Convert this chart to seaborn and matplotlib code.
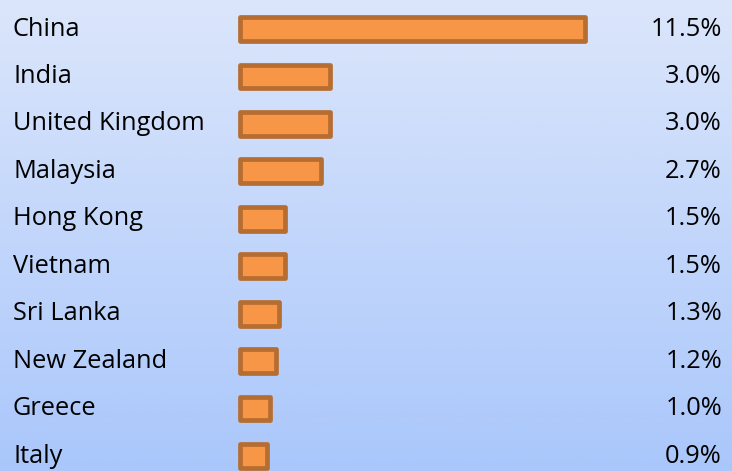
import numpy as np
import pandas as pd
import matplotlib
matplotlib.use("Agg")
import matplotlib.pyplot as plt
import matplotlib.transforms as mtransforms
import seaborn as sns

countries = ["China", "India", "United Kingdom", "Malaysia", "Hong Kong",
             "Vietnam", "Sri Lanka", "New Zealand", "Greece", "Italy"]
values = [11.5, 3.0, 3.0, 2.7, 1.5, 1.5, 1.3, 1.2, 1.0, 0.9]
value_labels = ["11.5%", "3.0%", "3.0%", "2.7%", "1.5%", "1.5%", "1.3%", "1.2%", "1.0%", "0.9%"]

df = pd.DataFrame({"country": countries, "value": values})

sns.set_theme(style="white")
plt.rcParams['font.family'] = ['Open Sans', 'DejaVu Sans']

W, H = 732, 471
fig = plt.figure(figsize=(W / 100, H / 100), dpi=100)
ax = fig.add_axes([0, 0, 1, 1])

# gradient background
top = np.array([219, 230, 251]) / 255
bot = np.array([170, 199, 251]) / 255
t = np.linspace(0, 1, 256)[:, None]
grad = (top[None, :] * (1 - t) + bot[None, :] * t)[:, None, :]
ax.imshow(grad, extent=[0, 1, 0, 1], transform=ax.transAxes, aspect="auto", zorder=0)

sns.barplot(data=df, x="value", y="country", orient="h", ax=ax,
            color="#f79646", edgecolor="#b66d31", linewidth=3.4,
            width=0.5, saturation=1, zorder=2)
for p in ax.patches:
    p.set_joinstyle("round")

px_per = 30.0
x0 = 239.5
ax.set_xlim(-x0 / px_per, (W - x0) / px_per)
row = 47.45
c0 = 29
ax.set_ylim((H - c0) / row, -c0 / row)

trans = mtransforms.blended_transform_factory(ax.transAxes, ax.transData)
for i, (c, v) in enumerate(zip(countries, value_labels)):
    ax.text(13 / W, i, c, transform=trans, ha="left", va="center", fontsize=18.3, color="black")
    ax.text(722 / W, i, v, transform=trans, ha="right", va="center", fontsize=18.3, color="black")

ax.set_axis_off()
fig.savefig("out.png", dpi=100)
